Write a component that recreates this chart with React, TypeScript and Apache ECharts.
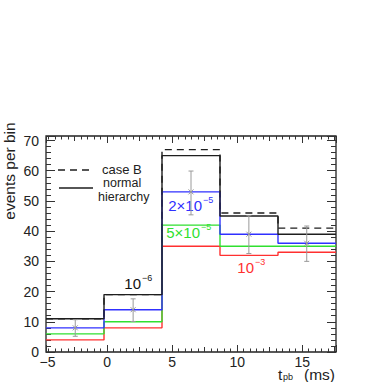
import React, { useEffect, useRef } from "react";
import * as echarts from "echarts";

const SIZE = 382;
const FONT = "'Liberation Sans', Arial, sans-serif";

// plot frame (px)
const GRID = { left: 46, right: 46, top: 136, bottom: 30 };
const X_MIN = -4.7;
const X_MAX = 17.6;
const Y_MAX = 71.5;
const X_LABEL_MARGIN = 4;
const X_LABEL_LH = 11;

// ---- data ----
const binEdges = [-4.7, -0.24, 4.22, 8.68, 13.14, 17.6];
const caseB = [11, 19, 67, 46, 41];
const normalHierarchy = [11, 19, 65, 45, 39];
const val2e5 = [8, 14, 53, 39, 36];
const val5e5 = [6, 10, 42, 35, 35];
const val1e3 = [4, 8, 35, 32, 33];
const pointX = [-2.45, 2.0, 6.45, 10.9, 15.35];
const pointY = [8, 14, 53, 39, 36];
const errLow = [5.2, 10.1, 45.4, 32.6, 30.0];
const errHigh = [10.7, 17.6, 59.9, 45.1, 41.7];
const xTickLabels = [0, 5, 10, 15];
const xEdgeLabel = -5; // printed just inside the left frame, as in the reference
const yTickLabels = [0, 10, 20, 30, 40, 50, 60, 70];

const C_BLACK = "#1e1e1e";
const C_BLUE = "#3030ff";
const C_GREEN = "#30e030";
const C_RED = "#ff3030";
const C_ERR = "#9a9a9a";
const C_TICK = "#333";

const fmtNum = (n: number) => (n < 0 ? "\u2212" + Math.abs(n) : String(n));

const steps = (vals: number[]) =>
  binEdges.map((e, i) => [e, vals[Math.min(i, vals.length - 1)]]);

// helpers to align tick-only overlay grids with the plot scale
const pxX = (SIZE - GRID.left - GRID.right) / (X_MAX - X_MIN);
const xLeft = (v: number) => GRID.left + (v - X_MIN) * pxX;
const xRight = (v: number) => SIZE - xLeft(v);
const pxY = (SIZE - GRID.top - GRID.bottom) / Y_MAX;
const yTop = (v: number) => SIZE - GRID.bottom - v * pxY;

const txt = (
  text: string,
  size: number,
  color: string,
  align: string,
  vAlign = "middle",
  lineHeight?: number
) => ({
  text,
  fill: color,
  font: `${size}px ${FONT}`,
  align,
  textAlign: align,
  verticalAlign: vAlign,
  textVerticalAlign: vAlign,
  ...(lineHeight ? { lineHeight, textLineHeight: lineHeight } : {}),
});

function buildOption() {
  const noLine = { show: false, onZero: false };
  const tickAxis = (
    gridIndex: number,
    position: string,
    min: number,
    max: number,
    interval: number,
    length: number
  ) => ({
    type: "value",
    gridIndex,
    position,
    min,
    max,
    interval,
    axisLine: noLine,
    splitLine: { show: false },
    axisLabel: { show: false },
    axisTick: { show: true, inside: true, length, lineStyle: { color: C_TICK, width: 1 } },
  });

  const xLabelFormatter = (v: number) => (xTickLabels.includes(v) ? fmtNum(v) : "");
  const yLabelFormatter = (v: number) => (yTickLabels.includes(v) ? String(v) : "");

  const mainX = (position: string, labels: boolean) => ({
    type: "value",
    gridIndex: 0,
    position,
    min: X_MIN,
    max: X_MAX,
    splitNumber: 5,
    minInterval: 5,
    maxInterval: 5,
    axisLine: noLine,
    splitLine: { show: false },
    axisTick: { show: true, inside: true, length: 7, lineStyle: { color: C_TICK, width: 1 } },
    axisLabel: labels
      ? {
          show: true,
          formatter: xLabelFormatter,
          margin: X_LABEL_MARGIN,
          fontSize: 14,
          lineHeight: X_LABEL_LH,
          fontFamily: FONT,
          color: "#222",
        }
      : { show: false },
  });

  const mainY = (position: string, labels: boolean) => ({
    type: "value",
    gridIndex: 0,
    position,
    min: 0,
    max: Y_MAX,
    interval: 10,
    axisLine: noLine,
    splitLine: { show: false },
    axisTick: { show: true, inside: true, length: 9, lineStyle: { color: C_TICK, width: 1 } },
    axisLabel: labels
      ? {
          show: true,
          formatter: yLabelFormatter,
          margin: 7,
          fontSize: 14,
          lineHeight: 12,
          fontFamily: FONT,
          color: "#222",
        }
      : { show: false },
  });

  const lineSeries = (name: string, vals: number[], color: string, z: number, dashed = false) => ({
    name,
    type: "line",
    xAxisIndex: 0,
    yAxisIndex: 0,
    step: "end",
    symbol: "none",
    showSymbol: false,
    data: steps(vals),
    z,
    lineStyle: { color, width: 1.4, type: dashed ? [7, 5] : "solid" },
    itemStyle: { color },
  });

  const xLabelY = SIZE - GRID.bottom + X_LABEL_MARGIN + X_LABEL_LH / 2;

  return {
    animation: false,
    backgroundColor: "#ffffff",
    grid: [
      { ...GRID, show: true, borderColor: "#222", borderWidth: 1.3, backgroundColor: "transparent" },
      { left: xLeft(-4.5), right: xRight(17.5), top: GRID.top, bottom: GRID.bottom },
      { left: xLeft(-2.5), right: xRight(17.5), top: GRID.top, bottom: GRID.bottom },
      { left: GRID.left, right: GRID.right, top: yTop(70), bottom: GRID.bottom },
    ],
    xAxis: [
      mainX("bottom", true),
      mainX("top", false),
      tickAxis(1, "bottom", -4.5, 17.5, 0.5, 3.5),
      tickAxis(1, "top", -4.5, 17.5, 0.5, 3.5),
      tickAxis(2, "bottom", -2.5, 17.5, 2.5, 5),
      tickAxis(2, "top", -2.5, 17.5, 2.5, 5),
      { type: "value", gridIndex: 3, show: false, min: X_MIN, max: X_MAX, axisLine: noLine },
    ],
    yAxis: [
      mainY("left", true),
      mainY("right", false),
      { type: "value", gridIndex: 1, show: false, min: 0, max: Y_MAX, axisLine: noLine },
      { type: "value", gridIndex: 2, show: false, min: 0, max: Y_MAX, axisLine: noLine },
      tickAxis(3, "left", 0, 70, 2, 5),
      tickAxis(3, "right", 0, 70, 2, 5),
    ],
    series: [
      lineSeries("case B", caseB, C_BLACK, 2, true),
      lineSeries("10^-3", val1e3, C_RED, 3),
      lineSeries("5x10^-5", val5e5, C_GREEN, 3),
      lineSeries("2x10^-5", val2e5, C_BLUE, 3),
      lineSeries("normal hierarchy", normalHierarchy, C_BLACK, 4),
      {
        name: "data",
        type: "custom",
        xAxisIndex: 0,
        yAxisIndex: 0,
        z: 6,
        data: pointX.map((x, i) => [x, pointY[i], errLow[i], errHigh[i]]),
        encode: { x: 0, y: [1, 2, 3] },
        renderItem: (_params: any, api: any) => {
          const x = api.value(0);
          const c = api.coord([x, api.value(1)]);
          const l = api.coord([x, api.value(2)]);
          const h = api.coord([x, api.value(3)]);
          const cap = 2.5;
          const s = 2.5;
          const st = { stroke: C_ERR, lineWidth: 1 };
          return {
            type: "group",
            children: [
              { type: "line", shape: { x1: l[0], y1: l[1], x2: h[0], y2: h[1] }, style: st },
              { type: "line", shape: { x1: l[0] - cap, y1: l[1], x2: l[0] + cap, y2: l[1] }, style: st },
              { type: "line", shape: { x1: h[0] - cap, y1: h[1], x2: h[0] + cap, y2: h[1] }, style: st },
              { type: "line", shape: { x1: c[0] - s, y1: c[1] - s, x2: c[0] + s, y2: c[1] + s }, style: st },
              { type: "line", shape: { x1: c[0] - s, y1: c[1] + s, x2: c[0] + s, y2: c[1] - s }, style: st },
            ],
          };
        },
      },
    ],
    graphic: [
      // edge tick label
      {
        type: "text",
        x: GRID.left + 1.5,
        y: xLabelY,
        style: txt(fmtNum(xEdgeLabel), 14, "#222", "center", "middle", X_LABEL_LH),
      },
      // legend
      {
        type: "line",
        shape: { x1: 58, y1: 170, x2: 90, y2: 170 },
        style: { stroke: C_BLACK, lineWidth: 1.3, lineDash: [7, 5] },
      },
      { type: "text", x: 102, y: 169, style: txt("case B", 13, "#222", "left") },
      {
        type: "line",
        shape: { x1: 59, y1: 188, x2: 93, y2: 188 },
        style: { stroke: C_BLACK, lineWidth: 1.3 },
      },
      { type: "text", x: 103, y: 182.5, style: txt("normal", 12.5, "#222", "left") },
      { type: "text", x: 98, y: 196.5, style: txt("hierarchy", 12.5, "#222", "left") },
      // annotations
      { type: "text", x: 141, y: 283, style: txt("10", 15, "#111", "right") },
      { type: "text", x: 142, y: 278, style: txt("\u22126", 9, "#111", "left") },
      { type: "text", x: 202, y: 205, style: txt("2\u00d710", 15, C_BLUE, "right") },
      { type: "text", x: 203, y: 200, style: txt("\u22125", 9, C_BLUE, "left") },
      { type: "text", x: 200, y: 232, style: txt("5\u00d710", 15, C_GREEN, "right") },
      { type: "text", x: 201, y: 227, style: txt("\u22125", 9, C_GREEN, "left") },
      { type: "text", x: 254, y: 267, style: txt("10", 15, C_RED, "right") },
      { type: "text", x: 255, y: 262, style: txt("\u22123", 9, C_RED, "left") },
      // axis titles
      {
        type: "text",
        x: 9,
        y: 171,
        rotation: Math.PI / 2,
        style: txt("events per bin", 15.5, "#222", "center"),
      },
      { type: "text", x: 278, y: 374.5, style: txt("t", 15.5, "#222", "left", "middle", 14) },
      { type: "text", x: 283, y: 377, style: txt("pb", 9, "#222", "left", "middle", 8) },
      { type: "text", x: 335, y: 374.5, style: txt("(ms)", 15.5, "#222", "right", "middle", 14) },
    ],
  };
}

export default function App() {
  const ref = useRef<HTMLDivElement>(null);
  useEffect(() => {
    if (!ref.current) return;
    const chart = echarts.init(ref.current, null, { renderer: "svg" });
    chart.setOption(buildOption() as any);
    return () => chart.dispose();
  }, []);
  return (
    <div
      ref={ref}
      style={{ position: "absolute", left: 0, top: 0, width: SIZE, height: SIZE, background: "#fff" }}
    />
  );
}
